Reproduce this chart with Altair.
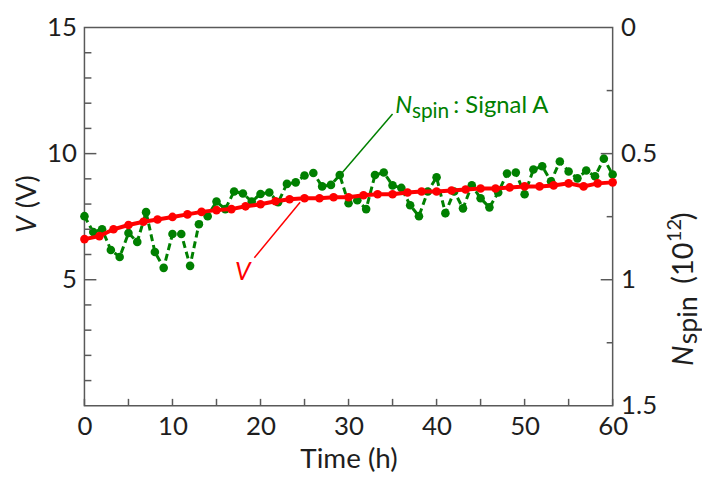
import altair as alt
import pandas as pd

# ---- data ----
# Voltage V (red, left axis), sampled about every 1.67 h
v_time = [0, 1.7, 3.3, 5, 6.7, 8.3, 10, 11.7, 13.3, 15, 16.7, 18.3, 20,
          21.7, 23.3, 25, 26.7, 28.3, 30, 31.7, 33.3, 35, 36.7, 38.3, 40,
          41.7, 43.3, 45, 46.7, 48.3, 50, 51.7, 53.3, 55, 56.7, 58.3, 60]
v_volt = [6.61, 6.73, 7.0, 7.17, 7.3, 7.39, 7.49, 7.59, 7.69, 7.76, 7.8, 7.91, 7.99,
          8.11, 8.19, 8.23, 8.23, 8.27, 8.27, 8.35, 8.39, 8.39, 8.46, 8.5, 8.5,
          8.54, 8.58, 8.62, 8.62, 8.66, 8.7, 8.7, 8.74, 8.82, 8.7, 8.82, 8.86]

# N_spin Signal A (green, right axis, 10^12), hourly
n_time = [0, 1, 2, 3, 4, 5, 6, 7, 8, 9, 10, 11, 12, 13, 14, 15, 16, 17, 18, 19,
          20, 21, 22, 23, 24, 25, 26, 27, 28, 29, 30, 31, 32, 33, 34, 35, 36, 37, 38, 39,
          40, 41, 42, 43, 44, 45, 46, 47, 48, 49, 50, 51, 52, 53, 54, 55, 56, 57, 58, 59, 60]
n_spin = [0.748, 0.811, 0.800, 0.882, 0.910, 0.815, 0.850, 0.732, 0.890, 0.953,
          0.819, 0.819, 0.945, 0.780, 0.748, 0.690, 0.720, 0.650, 0.658, 0.690,
          0.660, 0.654, 0.693, 0.620, 0.614, 0.587, 0.577, 0.630, 0.624, 0.585,
          0.697, 0.685, 0.720, 0.585, 0.575, 0.626, 0.636, 0.705, 0.748, 0.650,
          0.594, 0.736, 0.650, 0.717, 0.626, 0.677, 0.713, 0.654, 0.579, 0.575,
          0.661, 0.563, 0.550, 0.610, 0.531, 0.571, 0.598, 0.567, 0.590, 0.520, 0.583]

x_ticks = [0, 5, 10, 15, 20, 25, 30, 35, 40, 45, 50, 55, 60]
x_labels = [0, 10, 20, 30, 40, 50, 60]
left_major = [5, 10]
left_minor = [1, 2, 3, 4, 6, 7, 8, 9, 11, 12, 13, 14]
left_labels = [5, 10, 15]
right_major = [0.5, 1.0]
right_minor = [0.25, 0.75, 1.25]
right_labels = [0, 0.5, 1, 1.5]

W, H = 532, 381
RED = "#FF0000"
GREEN = "#008000"
AXC = "#595959"
TXT = "#1e1e1e"
FONT = "Lato"
LBL = 26

xs = alt.Scale(domain=[0, 60], nice=False, zero=False)
ys_left = alt.Scale(domain=[0, 15], nice=False, zero=False)
ys_right = alt.Scale(domain=[0, 1.5], nice=False, zero=False, reverse=True)

x_axis = alt.Axis(values=x_labels, ticks=False, domain=False, grid=False,
                  labelFontSize=LBL, labelPadding=8, labelColor=TXT, labelFlush=False,
                  title="Time (h)", titleFontSize=28, titleFontWeight="normal",
                  titleColor=TXT, titlePadding=6)
left_axis = alt.Axis(orient="left", values=left_labels, ticks=False, domain=False,
                     grid=False, labelFontSize=LBL, labelPadding=8, labelColor=TXT,
                     title=None)
right_axis = alt.Axis(orient="right", values=right_labels, ticks=False, domain=False,
                      grid=False, labelFontSize=LBL, labelPadding=8, labelColor=TXT,
                      format="~g", title=None)

df_v = pd.DataFrame({"t": v_time, "V": v_volt})
df_n = pd.DataFrame({"t": n_time, "N": n_spin})

X = alt.X("t:Q", scale=xs, axis=x_axis)

# ---- green (right axis) ----
gbase = alt.Chart(df_n).encode(x=X, y=alt.Y("N:Q", scale=ys_right, axis=right_axis))
g_line = gbase.mark_line(color=GREEN, strokeWidth=3, strokeDash=[7, 4])
g_pts = gbase.mark_circle(color=GREEN, size=75, opacity=1)
r_maj = alt.Chart(pd.DataFrame({"N": right_major})).mark_rule(color=AXC, strokeWidth=1.5).encode(
    y=alt.Y("N:Q", scale=ys_right, axis=right_axis), x=alt.value(W), x2=alt.value(W - 12))
r_min = alt.Chart(pd.DataFrame({"N": right_minor})).mark_rule(color=AXC, strokeWidth=1.5).encode(
    y=alt.Y("N:Q", scale=ys_right, axis=right_axis), x=alt.value(W), x2=alt.value(W - 6))

# right title pieces (rotated)
rt = []
for txt, yy, xx, size, style in [("N", 341, W + 72, 29, "italic"),
                                 ("spin", 319, W + 77, 27, "normal"),
                                 ("(10", 258, W + 72, 29, "normal"),
                                 ("12", 216, W + 63, 20, "normal"),
                                 (")", 194, W + 72, 29, "normal")]:
    rt.append(alt.Chart(pd.DataFrame({"s": [txt]})).mark_text(
        angle=270, align="left", baseline="middle", fontSize=size, fontStyle=style,
        color=TXT, font=FONT).encode(text="s:N", x=alt.value(xx), y=alt.value(yy)))

right = alt.layer(g_line, g_pts, r_maj, r_min, *rt)

# ---- red (left axis) ----
vbase = alt.Chart(df_v).encode(x=X, y=alt.Y("V:Q", scale=ys_left, axis=left_axis))
v_line = vbase.mark_line(color=RED, strokeWidth=4)
v_pts = vbase.mark_circle(color=RED, size=75, opacity=1)

xt = alt.Chart(pd.DataFrame({"t": x_ticks})).mark_rule(color=AXC, strokeWidth=1.5).encode(
    x=X, y=alt.value(H), y2=alt.value(H - 7))
l_maj = alt.Chart(pd.DataFrame({"V": left_major})).mark_rule(color=AXC, strokeWidth=1.5).encode(
    y=alt.Y("V:Q", scale=ys_left, axis=left_axis), x=alt.value(0), x2=alt.value(12))
l_min = alt.Chart(pd.DataFrame({"V": left_minor})).mark_rule(color=AXC, strokeWidth=1.5).encode(
    y=alt.Y("V:Q", scale=ys_left, axis=left_axis), x=alt.value(0), x2=alt.value(7))

# annotations (in data units)
ann_lines = pd.DataFrame({"t": [35.0, 19.3], "V": [11.57, 5.87],
                          "t2": [29.2, 24.5], "V2": [9.21, 8.07],
                          "c": ["g", "r"]})
leaders = alt.Chart(ann_lines).mark_rule(strokeWidth=1.5).encode(
    x=X, y=alt.Y("V:Q", scale=ys_left, axis=left_axis), x2="t2:Q", y2="V2:Q",
    color=alt.Color("c:N", scale=alt.Scale(domain=["g", "r"], range=[GREEN, RED]), legend=None))

ann_txt = []
for txt, tt, vv, size, style, col in [("N", 35.3, 11.61, 24, "italic", GREEN),
                                      ("spin", 37.2, 11.40, 21, "normal", GREEN),
                                      (": Signal A", 41.9, 11.61, 24, "normal", GREEN),
                                      ("V", 17.1, 5.0, 25, "italic", RED)]:
    ann_txt.append(alt.Chart(pd.DataFrame({"s": [txt], "t": [tt], "V": [vv]})).mark_text(
        align="left", baseline="alphabetic", fontSize=size, fontStyle=style,
        color=col, font=FONT).encode(
        text="s:N", x=X, y=alt.Y("V:Q", scale=ys_left, axis=left_axis)))

# left title pieces (rotated)
lt = []
for txt, yy, style in [("V", 207, "italic"), ("(V)", 182, "normal")]:
    lt.append(alt.Chart(pd.DataFrame({"s": [txt]})).mark_text(
        angle=270, align="left", baseline="middle", fontSize=27, fontStyle=style,
        color=TXT, font=FONT).encode(text="s:N", x=alt.value(-57), y=alt.value(yy)))

left = alt.layer(xt, l_maj, l_min, leaders, *ann_txt, *lt, v_line, v_pts)

chart = alt.layer(right, left).resolve_scale(y="independent").properties(
    width=W, height=H,
    padding={"left": 77, "top": 18, "right": 90, "bottom": 66},
    autosize=alt.AutoSizeParams(type="none"),
).configure_view(stroke=AXC, strokeWidth=1.5).configure_axis(
    labelFont=FONT, titleFont=FONT
).configure_text(font=FONT)

chart.save("out.html", embed_options={"renderer": "svg", "actions": False})
